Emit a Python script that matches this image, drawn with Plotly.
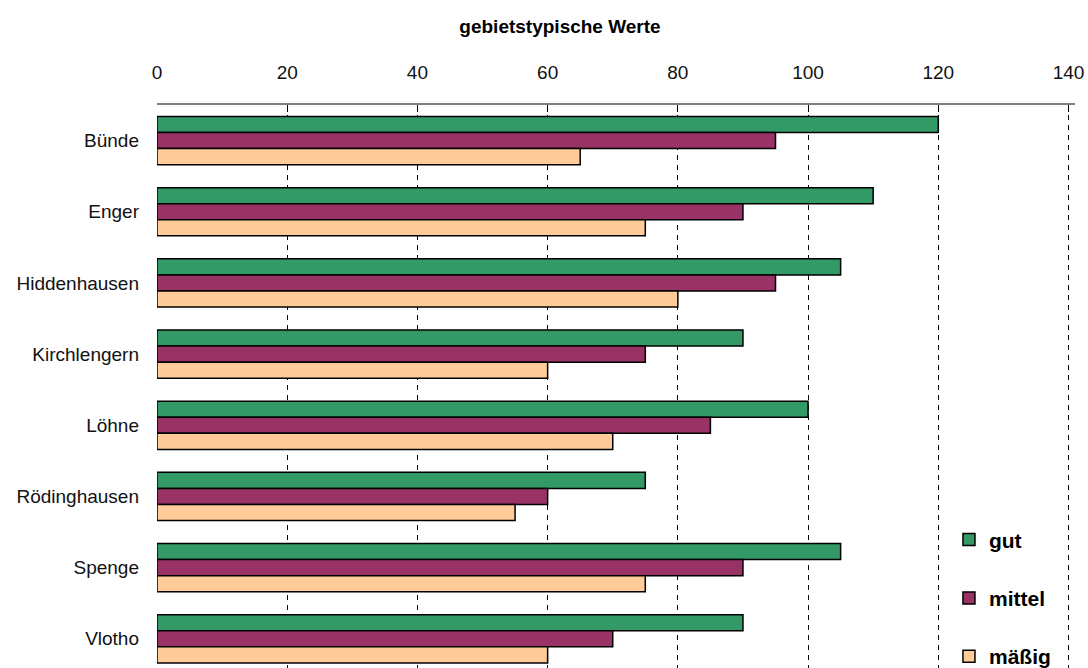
import plotly.graph_objects as go

orte = ["Bünde", "Enger", "Hiddenhausen", "Kirchlengern", "Löhne",
        "Rödinghausen", "Spenge", "Vlotho"]
gut = [120, 110, 105, 90, 100, 75, 105, 90]
mittel = [95, 90, 95, 75, 85, 60, 90, 70]
maessig = [65, 75, 80, 60, 70, 55, 75, 60]
x_ticks = [0, 20, 40, 60, 80, 100, 120, 140]

series = [("gut", gut, "#339966"), ("mittel", mittel, "#993366"),
          ("mäßig", maessig, "#FFCC99")]

fig = go.Figure()
for name, vals, col in series:
    fig.add_trace(go.Bar(
        y=orte, x=vals, name=name, orientation="h", legendgroup=name,
        marker=dict(color=col, line=dict(color="black", width=1.5)),
    ))

fig.update_layout(
    width=1088, height=668,
    barmode="group", bargap=0.323, bargroupgap=0,
    plot_bgcolor="white", paper_bgcolor="white",
    font=dict(family="Liberation Sans, Arial, sans-serif", size=19, color="#111"),
    margin=dict(l=157, r=13, t=105, b=0, autoexpand=False),
    title=dict(text="<b>gebietstypische Werte</b>", x=560 / 1088,
               xanchor="center", y=1 - 26 / 668, yanchor="middle",
               font=dict(size=19, color="black")),
    # legend sits partly below the plot, like in the original
    legend=dict(x=0.8627, y=-0.015, xanchor="left", yanchor="bottom",
                bgcolor="white", traceorder="grouped", tracegroupgap=28,
                entrywidth=100,
                font=dict(size=21, color="black", weight="bold")),
    showlegend=True,
)
fig.update_xaxes(
    side="top", range=[0, 141], tickvals=x_ticks, ticks="inside", ticklen=7,
    tickcolor="black", showline=True, linecolor="#808080", linewidth=1.5,
    showgrid=True, gridcolor="black", griddash="5px,5px", gridwidth=1,
    zeroline=False, ticklabelstandoff=17,
)
fig.update_yaxes(
    range=[7.41, -0.5], showline=False, ticks="", showgrid=False,
    ticklabelstandoff=17,
)

# drop the default 8px page margin so the figure fills the window exactly
fig.write_html("out.html", config={"displayModeBar": False},
               post_script="document.body.style.margin='0';")
